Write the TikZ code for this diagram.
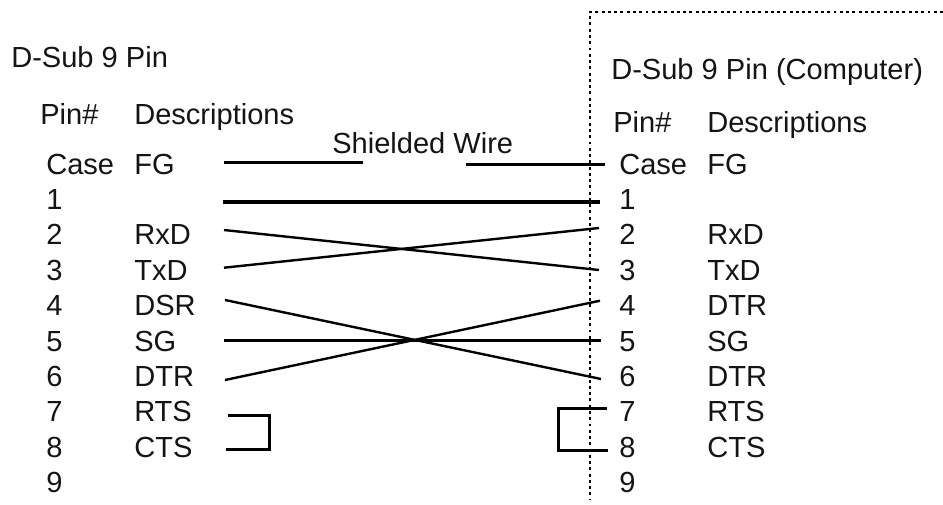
\documentclass[tikz,border=0pt]{standalone}
\usepackage{fontspec}
\setmainfont{Liberation Sans}
\tikzset{
 lbl/.style={inner sep=0pt,anchor=base west,font=\fontsize{21.8pt}{24pt}\selectfont,text=black!92},
 wire/.style={line width=1.8pt,black},
 frame/.style={line width=2.2pt,dash pattern=on 2.2pt off 2.5pt,black}
}
\begin{document}
\begin{tikzpicture}[x=0.75pt,y=-0.75pt]
\useasboundingbox (0,0) rectangle (943,504);
\node[lbl] (t1) at (11,67) {D-Sub 9 Pin};
\node[lbl] (t2) at (611,79) {D-Sub 9 Pin (Computer)};
\node[lbl] (h1) at (40,124) {Pin\#};
\node[lbl] (h2) at (134,124) {Descriptions};
\node[lbl] (h3) at (613,132) {Pin\#};
\node[lbl] (h4) at (707,132) {Descriptions};
\node[lbl] (sw) at (332,153) {Shielded Wire};
\foreach \n/\a/\b/\y in {0/Case/FG/174,1/1//209,2/2/RxD/244,3/3/TxD/280,4/4/DSR/315,5/5/SG/351,6/6/DTR/386,7/7/RTS/421,8/8/CTS/457,9/9//492}{
 \node[lbl] (la\n) at (46,\y) {\a};
 \node[lbl] (lb\n) at (134,\y) {\b};
}
\foreach \n/\a/\b/\y in {0/Case/FG/174,1/1//209,2/2/RxD/244,3/3/TxD/280,4/4/DTR/315,5/5/SG/351,6/6/DTR/386,7/7/RTS/421,8/8/CTS/457,9/9//492}{
 \node[lbl] (ra\n) at (619,\y) {\a};
 \node[lbl] (rb\n) at (707,\y) {\b};
}
\coordinate (a0) at (224,162.5); \coordinate (a0e) at (363,162.5);
\coordinate (b0s) at (466,164.5); \coordinate (b0) at (605,164.5);
\coordinate (a1) at (223,202); \coordinate (b1) at (600,202);
\coordinate (a2) at (224,230); \coordinate (b3) at (599,270);
\coordinate (a3) at (224,267.7); \coordinate (b2) at (599,228);
\coordinate (a4) at (225,300); \coordinate (b6) at (601,379);
\coordinate (a5) at (224,340.5); \coordinate (b5) at (601,340.5);
\coordinate (a6) at (225,380); \coordinate (b4) at (600,300.7);
\draw[wire] (a0) -- (a0e);
\draw[wire] (b0s) -- (b0);
\draw[wire,line width=3pt] (a1) -- (b1);
\draw[wire] (a2) -- (b3);
\draw[wire] (a3) -- (b2);
\draw[wire] (a4) -- (b6);
\draw[wire] (a5) -- (b5);
\draw[wire] (a6) -- (b4);
\draw[wire] (228,415.5) -- (269.5,415.5) -- (269.5,449.5) -- (226,449.5);
\draw[wire] (607,408.5) -- (558.5,408.5) -- (558.5,450.5) -- (608,450.5);
\draw[frame] (943,12) -- (590,12) -- (590,499);
\end{tikzpicture}
\end{document}
